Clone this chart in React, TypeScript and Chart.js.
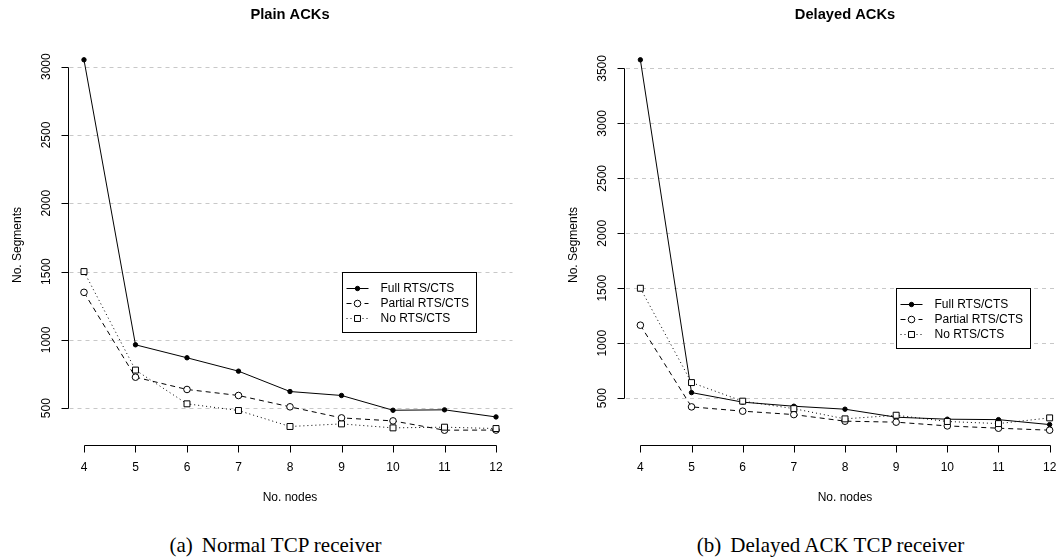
import React, { useEffect, useRef } from "react";
import { Chart, registerables } from "chart.js";
Chart.register(...registerables);

// ---------- data ----------
const nodes = [4, 5, 6, 7, 8, 9, 10, 11, 12];
const seriesNames = ["Full RTS/CTS", "Partial RTS/CTS", "No RTS/CTS"];

const plainFull = [3050, 964, 869, 771, 622, 593, 485, 488, 436];
const plainPartial = [1348, 727, 637, 593, 510, 429, 407, 339, 340];
const plainNone = [1500, 779, 532, 483, 366, 385, 356, 361, 351];

const delayedFull = [3578, 551, 464, 427, 400, 327, 309, 305, 260];
const delayedPartial = [1164, 421, 382, 351, 291, 282, 248, 227, 209];
const delayedNone = [1500, 642, 473, 405, 312, 345, 288, 269, 321];

const plainYTicks = [500, 1000, 1500, 2000, 2500, 3000];
const delayedYTicks = [500, 1000, 1500, 2000, 2500, 3000, 3500];
const xTicks = nodes;

const FONT = "'Liberation Sans', Arial, Helvetica, sans-serif";

const seriesStyles = [
  { dash: [] as number[], pointStyle: "circle", radius: 2.2, fill: "#000" },
  { dash: [5, 4], pointStyle: "circle", radius: 3.3, fill: "#fff" },
  { dash: [1, 3], pointStyle: "rect", radius: 4.2, fill: "#fff" },
];

function rRange(values: number[][]) {
  const all = values.flat();
  const mn = Math.min(...all);
  const mx = Math.max(...all);
  const ext = (mx - mn) * 0.04;
  return [mn - ext, mx + ext];
}

function drawMarker(ctx: CanvasRenderingContext2D, style: string, r: number, x: number, y: number) {
  ctx.beginPath();
  if (style === "rect") {
    const s = Math.SQRT1_2 * r;
    ctx.rect(x - s, y - s, 2 * s, 2 * s);
  } else {
    ctx.arc(x, y, r, 0, Math.PI * 2);
  }
  ctx.fill();
  ctx.stroke();
}

const rPlugin = {
  id: "rstyle",
  beforeDatasetsDraw(chart: any, _args: any, opts: any) {
    const { ctx, chartArea: a, scales } = chart;
    const y = scales.y;
    ctx.save();
    ctx.strokeStyle = "#c8c8c8";
    ctx.lineWidth = 1;
    ctx.setLineDash([4, 4]);
    for (const t of opts.yTicks) {
      const py = Math.round(y.getPixelForValue(t)) + 0.5;
      ctx.beginPath();
      ctx.moveTo(a.left + 2, py);
      ctx.lineTo(a.right, py);
      ctx.stroke();
    }
    ctx.restore();
  },
  afterDraw(chart: any, _args: any, opts: any) {
    const { ctx, chartArea: a, scales } = chart;
    const x = scales.x;
    const y = scales.y;
    ctx.save();
    ctx.strokeStyle = "#000";
    ctx.fillStyle = "#000";
    ctx.lineWidth = 1;
    ctx.setLineDash([]);

    // y axis
    const ax = Math.round(a.left) + 0.5;
    const yt = opts.yTicks as number[];
    const yTop = Math.round(y.getPixelForValue(yt[yt.length - 1])) + 0.5;
    const yBot = Math.round(y.getPixelForValue(yt[0])) + 0.5;
    ctx.beginPath();
    ctx.moveTo(ax, yTop);
    ctx.lineTo(ax, yBot);
    for (const t of yt) {
      const py = Math.round(y.getPixelForValue(t)) + 0.5;
      ctx.moveTo(ax - 7, py);
      ctx.lineTo(ax, py);
    }
    ctx.stroke();
    ctx.font = `12px ${FONT}`;
    ctx.textAlign = "center";
    ctx.textBaseline = "middle";
    for (const t of yt) {
      const py = y.getPixelForValue(t);
      ctx.save();
      ctx.translate(a.left - 21, py);
      ctx.rotate(-Math.PI / 2);
      ctx.fillText(String(t), 0, 0);
      ctx.restore();
    }

    // x axis
    const ay = Math.round(a.bottom) + 0.5;
    const xl = Math.round(x.getPixelForValue(xTicks[0])) + 0.5;
    const xr = Math.round(x.getPixelForValue(xTicks[xTicks.length - 1])) + 0.5;
    ctx.beginPath();
    ctx.moveTo(xl, ay);
    ctx.lineTo(xr, ay);
    for (const t of xTicks) {
      const px = Math.round(x.getPixelForValue(t)) + 0.5;
      ctx.moveTo(px, ay);
      ctx.lineTo(px, ay + 7);
    }
    ctx.stroke();
    for (const t of xTicks) {
      ctx.fillText(String(t), x.getPixelForValue(t), a.bottom + 23);
    }

    const cx = (a.left + a.right) / 2;
    // axis titles
    ctx.fillText(opts.xTitle, cx, a.bottom + 53);
    ctx.save();
    ctx.translate(a.left - 50, (a.top + a.bottom) / 2);
    ctx.rotate(-Math.PI / 2);
    ctx.fillText(opts.yTitle, 0, 0);
    ctx.restore();

    // main title
    ctx.font = `bold 14.7px ${FONT}`;
    ctx.fillText(opts.title, cx, 15);

    // legend
    const lx = Math.round(x.getPixelForValue(opts.legendAt[0])) + 0.5;
    const ly = Math.round(y.getPixelForValue(opts.legendAt[1])) + 0.5;
    const lw = 134;
    const lh = 60;
    ctx.fillStyle = "#fff";
    ctx.fillRect(lx, ly, lw, lh);
    ctx.strokeStyle = "#000";
    ctx.strokeRect(lx, ly, lw, lh);
    ctx.font = `12px ${FONT}`;
    ctx.textAlign = "left";
    chart.data.datasets.forEach((ds: any, i: number) => {
      const st = seriesStyles[i];
      const ry = Math.round(ly + 15.5 + i * 15) + 0.5;
      ctx.save();
      ctx.setLineDash(st.dash);
      ctx.strokeStyle = "#000";
      ctx.beginPath();
      ctx.moveTo(lx + 4, ry);
      ctx.lineTo(lx + 26, ry);
      ctx.stroke();
      ctx.setLineDash([]);
      ctx.fillStyle = st.fill;
      drawMarker(ctx, st.pointStyle, st.radius, lx + 15, ry);
      ctx.restore();
      ctx.fillStyle = "#000";
      ctx.fillText(ds.label, lx + 38, ry);
    });
    ctx.restore();
  },
};

type PanelCfg = {
  left: number;
  width: number;
  pad: { left: number; right: number; top: number; bottom: number };
  title: string;
  series: number[][];
  yTicks: number[];
};

function Panel({ cfg }: { cfg: PanelCfg }) {
  const ref = useRef<HTMLCanvasElement>(null);
  useEffect(() => {
    const [ymin, ymax] = rRange(cfg.series);
    const chart = new Chart(ref.current!, {
      type: "line",
      data: {
        datasets: cfg.series.map((vals, i) => ({
          label: seriesNames[i],
          data: nodes.map((n, k) => ({ x: n, y: vals[k] })),
          borderColor: "#000",
          borderWidth: 1,
          borderDash: seriesStyles[i].dash,
          pointStyle: seriesStyles[i].pointStyle as any,
          pointRadius: seriesStyles[i].radius,
          pointBackgroundColor: seriesStyles[i].fill,
          pointBorderColor: "#000",
          pointBorderWidth: 1,
          tension: 0,
          fill: false,
          clip: false as any,
          order: 3 - i,
        })),
      },
      options: {
        animation: false,
        responsive: false,
        devicePixelRatio: 1,
        layout: { padding: cfg.pad },
        scales: {
          x: { type: "linear", display: false, min: 3.68, max: 12.32 },
          y: { type: "linear", display: false, min: ymin, max: ymax },
        },
        plugins: {
          legend: { display: false },
          tooltip: { enabled: false },
          rstyle: {
            yTicks: cfg.yTicks,
            title: cfg.title,
            xTitle: "No. nodes",
            yTitle: "No. Segments",
            legendAt: [9, 1500],
          },
        } as any,
      },
      plugins: [rPlugin],
    });
    return () => chart.destroy();
  }, []);
  return (
    <canvas
      ref={ref}
      width={cfg.width}
      height={520}
      style={{ position: "absolute", left: cfg.left, top: 0, width: cfg.width, height: 520 }}
    />
  );
}

const leftCfg: PanelCfg = {
  left: 0,
  width: 528,
  pad: { left: 67.5, right: 15.5, top: 45, bottom: 75 },
  title: "Plain ACKs",
  series: [plainFull, plainPartial, plainNone],
  yTicks: plainYTicks,
};

const rightCfg: PanelCfg = {
  left: 528,
  width: 547,
  pad: { left: 96, right: 9, top: 45, bottom: 75 },
  title: "Delayed ACKs",
  series: [delayedFull, delayedPartial, delayedNone],
  yTicks: delayedYTicks,
};

const captionStyle: React.CSSProperties = {
  position: "absolute",
  top: 535,
  fontFamily: "'Liberation Serif', 'Times New Roman', serif",
  fontSize: 21,
  lineHeight: "21px",
  whiteSpace: "nowrap",
  transform: "translateX(-50%)",
  color: "#000",
};

export default function App() {
  return (
    <div
      style={{
        position: "fixed",
        left: 0,
        top: 0,
        width: 1057,
        height: 559,
        overflow: "hidden",
        background: "#fff",
      }}
    >
      <Panel cfg={leftCfg} />
      <Panel cfg={rightCfg} />
      <div style={{ ...captionStyle, left: 275.5 }}>
        (a)<span style={{ marginLeft: 9 }}>Normal TCP receiver</span>
      </div>
      <div style={{ ...captionStyle, left: 830.5 }}>
        (b)<span style={{ marginLeft: 9 }}>Delayed ACK TCP receiver</span>
      </div>
    </div>
  );
}
